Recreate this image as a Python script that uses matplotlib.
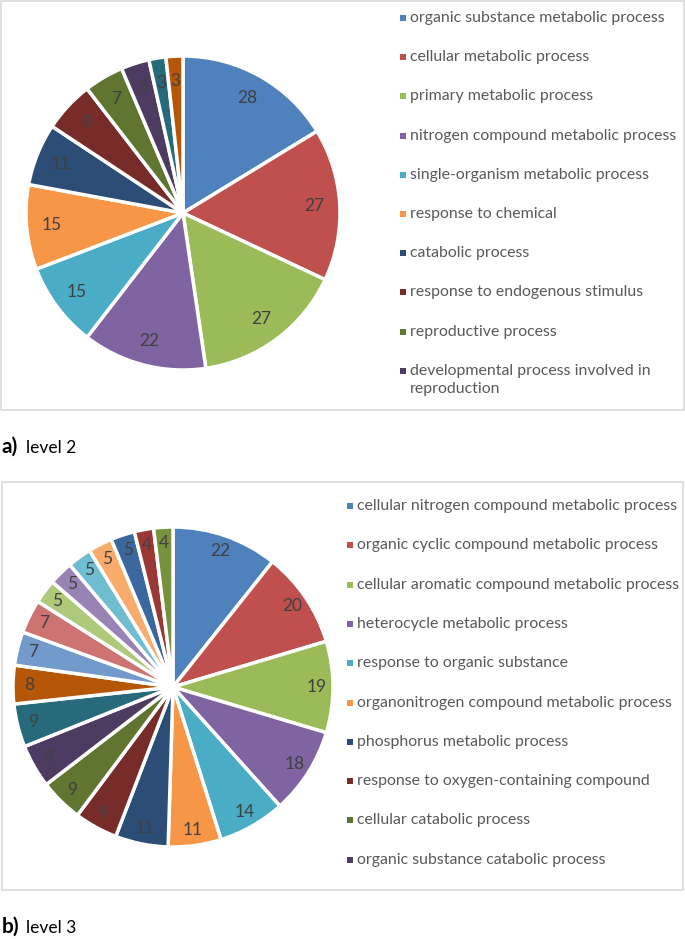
import matplotlib
matplotlib.use("Agg")
import matplotlib.pyplot as plt
from matplotlib.patches import Rectangle

plt.rcParams['font.family'] = ['Lato', 'DejaVu Sans']

# ---- data ----
level2_labels = [
    "organic substance metabolic process",
    "cellular metabolic process",
    "primary metabolic process",
    "nitrogen compound metabolic process",
    "single-organism metabolic process",
    "response to chemical",
    "catabolic process",
    "response to endogenous stimulus",
    "reproductive process",
    "developmental process involved in\nreproduction",
]
level2_values = [28, 27, 27, 22, 15, 15, 11, 9, 7, 5, 3, 3]

level3_labels = [
    "cellular nitrogen compound metabolic process",
    "organic cyclic compound metabolic process",
    "cellular aromatic compound metabolic process",
    "heterocycle metabolic process",
    "response to organic substance",
    "organonitrogen compound metabolic process",
    "phosphorus metabolic process",
    "response to oxygen-containing compound",
    "cellular catabolic process",
    "organic substance catabolic process",
]
level3_values = [22, 20, 19, 18, 14, 11, 11, 9, 9, 9, 9, 8, 7, 7, 5, 5, 5, 5, 5, 4, 4]

palette = [
    "#4F81BD", "#C0504D", "#9BBB59", "#8064A2", "#4BACC6", "#F79646",
    "#2C4D75", "#772C2A", "#5F7530", "#4D3B62", "#276A7C", "#B65708",
    "#729ACA", "#CD7371", "#AFC97A", "#9983B5", "#6FBDD1", "#F9AB6B",
    "#3A679E", "#9A3836", "#76923C",
]

W, H = 685, 939
fig = plt.figure(figsize=(W / 100, H / 100), dpi=100)
fig.patch.set_facecolor("white")

TEXT = "#404040"
LEG = "#595959"


def frame(x0, y0, x1, y1):
    fig.patches.append(Rectangle((x0 / W, 1 - y1 / H), (x1 - x0) / W, (y1 - y0) / H,
                                 transform=fig.transFigure, fill=False,
                                 edgecolor="#D9D9D9", linewidth=1.2))


def pie(cx, cy, r, values, labeldist):
    m = 1.02
    ax = fig.add_axes([(cx - r * m) / W, 1 - (cy + r * m) / H, 2 * r * m / W, 2 * r * m / H])
    wedges, texts = ax.pie(values, colors=palette[:len(values)], startangle=90,
                           counterclock=False, labels=[str(v) for v in values],
                           labeldistance=labeldist,
                           wedgeprops=dict(edgecolor="white", linewidth=2.5),
                           textprops=dict(color=TEXT, fontsize=12.5, ha="center", va="center"))
    for t in texts:
        t.set_ha("center")
        t.set_va("center")
    ax.set_xlim(-m, m)
    ax.set_ylim(-m, m)
    ax.set_aspect("equal")
    ax.axis("off")
    return wedges


def legend(x, y0, step, labels, fontsize=11.4):
    for i, lab in enumerate(labels):
        y = y0 + i * step
        fig.patches.append(Rectangle(((x - 10) / W, 1 - (y + 3) / H), 6 / W, 6 / H,
                                     transform=fig.transFigure,
                                     facecolor=palette[i], edgecolor="none"))
        fig.text((x) / W, 1 - (y - 7) / H, lab, color=LEG, fontsize=fontsize,
                 ha="left", va="top", linespacing=1.35)


frame(1, 1, 684, 410)
frame(2, 482, 683, 890)

pie(183, 213, 157, level2_values, 0.84)
legend(410, 18, 39.2, level2_labels)

pie(173, 687, 160, level3_values, 0.9)
legend(357, 506, 39.3, level3_labels)

fig.text(2 / W, 1 - 447 / H, "a)", fontsize=15, fontweight="bold", color="black",
         ha="left", va="center")
fig.text(26 / W, 1 - 448 / H, "level 2", fontsize=12.5, color="black", ha="left", va="center")
fig.text(2 / W, 1 - 927 / H, "b)", fontsize=15, fontweight="bold", color="black",
         ha="left", va="center")
fig.text(26 / W, 1 - 928 / H, "level 3", fontsize=12.5, color="black", ha="left", va="center")

fig.savefig("out.png", dpi=100, facecolor="white")
